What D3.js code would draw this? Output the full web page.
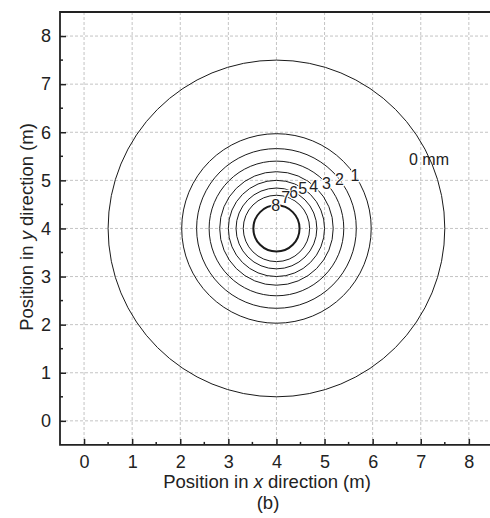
<!doctype html>
<html>
<head>
<meta charset="UTF-8">
<title>contours</title>
<script src="https://d3js.org/d3.v7.min.js"></script>
<style>
  body { margin: 0; background: #fff; }
  text { font-family: "Liberation Sans", Arial, sans-serif; }
</style>
</head>
<body>
<svg width="490" height="518"></svg>
<script>
// contour levels (mm), radius of each contour (m) and label angle (deg)
var levels = [0, 1, 2, 3, 4, 5, 6, 7, 8];
var radii = [3.5, 1.97, 1.66, 1.40, 1.18, 1.00, 0.84, 0.69, 0.48];
var labelAngles = [33, 34, 38, 42, 49, 57, 65, 74, 92];
var centre = [4, 4];
var xTicks = [0, 1, 2, 3, 4, 5, 6, 7, 8];
var yTicks = [0, 1, 2, 3, 4, 5, 6, 7, 8];

var svg = d3.select("svg");
var mLeft = 60, mTop = 12, unit = 48.1;
var x = d3.scaleLinear().domain([-0.5, 8.5]).range([mLeft, mLeft + 9 * unit]);
var y = d3.scaleLinear().domain([-0.5, 8.5]).range([mTop + 9 * unit, mTop]);
var bottom = y(-0.5);

// grid
var grid = svg.append("g")
  .attr("stroke", "#c4c4c4").attr("stroke-width", 1).attr("stroke-dasharray", "3,2");
grid.selectAll(".gx").data(xTicks).enter().append("line")
  .attr("x1", function(d){ return x(d); }).attr("x2", function(d){ return x(d); })
  .attr("y1", mTop).attr("y2", bottom);
grid.selectAll(".gy").data(yTicks).enter().append("line")
  .attr("y1", function(d){ return y(d); }).attr("y2", function(d){ return y(d); })
  .attr("x1", mLeft).attr("x2", 490);

// contours
var plot = svg.append("g");
plot.selectAll("ellipse").data(levels).enter().append("ellipse")
  .attr("cx", x(centre[0])).attr("cy", y(centre[1]))
  .attr("rx", function(d, i){ return x(centre[0] + radii[i]) - x(centre[0]); })
  .attr("ry", function(d, i){ return y(centre[1]) - y(centre[1] + radii[i]); })
  .attr("fill", "none").attr("stroke", "#1a1a1a")
  .attr("stroke-width", function(d){ return d === 8 ? 2 : 1; });

// contour labels
plot.selectAll(".lab").data(levels.slice(1)).enter().append("text")
  .attr("x", function(d){ var a = labelAngles[d] * Math.PI / 180; return x(centre[0] + radii[d] * Math.cos(a)); })
  .attr("y", function(d){ var a = labelAngles[d] * Math.PI / 180; return y(centre[1] + radii[d] * Math.sin(a)) + 6; })
  .attr("text-anchor", "middle").attr("font-size", 16)
  .attr("fill", "#222")
  .attr("stroke", "#fff").attr("stroke-width", 2.5).attr("paint-order", "stroke")
  .text(function(d){ return d; });
plot.append("text")
  .attr("x", 409).attr("y", 165)
  .attr("font-size", 16).attr("fill", "#222")
  .text(levels[0] + " mm");

// axes
var xAxis = d3.axisBottom(x).tickValues(xTicks).tickSize(-6).tickPadding(10).tickFormat(d3.format("d"));
var yAxis = d3.axisLeft(y).tickValues(yTicks).tickSize(-6).tickPadding(9).tickFormat(d3.format("d"));

var gx = svg.append("g").attr("transform", "translate(0," + bottom + ")").call(xAxis);
var gy = svg.append("g").attr("transform", "translate(" + mLeft + ",0)").call(yAxis);
[gx, gy].forEach(function(g){
  g.select(".domain").remove();
  g.selectAll(".tick line").attr("stroke", "#222").attr("stroke-width", 1.5);
  g.selectAll(".tick text").attr("font-size", 18).attr("fill", "#222")
    .style("font-family", "'Liberation Sans', Arial, sans-serif");
});

// minor ticks
var minor = d3.range(0, 8, 1).map(function(v){ return v + 0.5; });
svg.append("g").selectAll("line").data(minor).enter().append("line")
  .attr("x1", function(d){ return x(d); }).attr("x2", function(d){ return x(d); })
  .attr("y1", bottom).attr("y2", bottom - 3)
  .attr("stroke", "#222").attr("stroke-width", 1.5);
svg.append("g").selectAll("line").data(minor).enter().append("line")
  .attr("y1", function(d){ return y(d); }).attr("y2", function(d){ return y(d); })
  .attr("x1", mLeft).attr("x2", mLeft + 3)
  .attr("stroke", "#222").attr("stroke-width", 1.5);

// frame
svg.append("path")
  .attr("d", "M490," + mTop + "H" + mLeft + "V" + bottom + "H490")
  .attr("fill", "none").attr("stroke", "#222").attr("stroke-width", 1.8);

// titles
var xt = svg.append("text").attr("x", 267).attr("y", 488).attr("text-anchor", "middle").attr("font-size", 18.5).attr("fill", "#222");
xt.append("tspan").text("Position in ");
xt.append("tspan").attr("font-style", "italic").text("x");
xt.append("tspan").text(" direction (m)");

var yt = svg.append("text").attr("transform", "translate(33,227) rotate(-90)").attr("text-anchor", "middle").attr("font-size", 18.5).attr("fill", "#222");
yt.append("tspan").text("Position in ");
yt.append("tspan").attr("font-style", "italic").text("y");
yt.append("tspan").text(" direction (m)");

svg.append("text").attr("x", 268).attr("y", 509).attr("text-anchor", "middle").attr("font-size", 18.5).attr("fill", "#222").text("(b)");
</script>
</body>
</html>
